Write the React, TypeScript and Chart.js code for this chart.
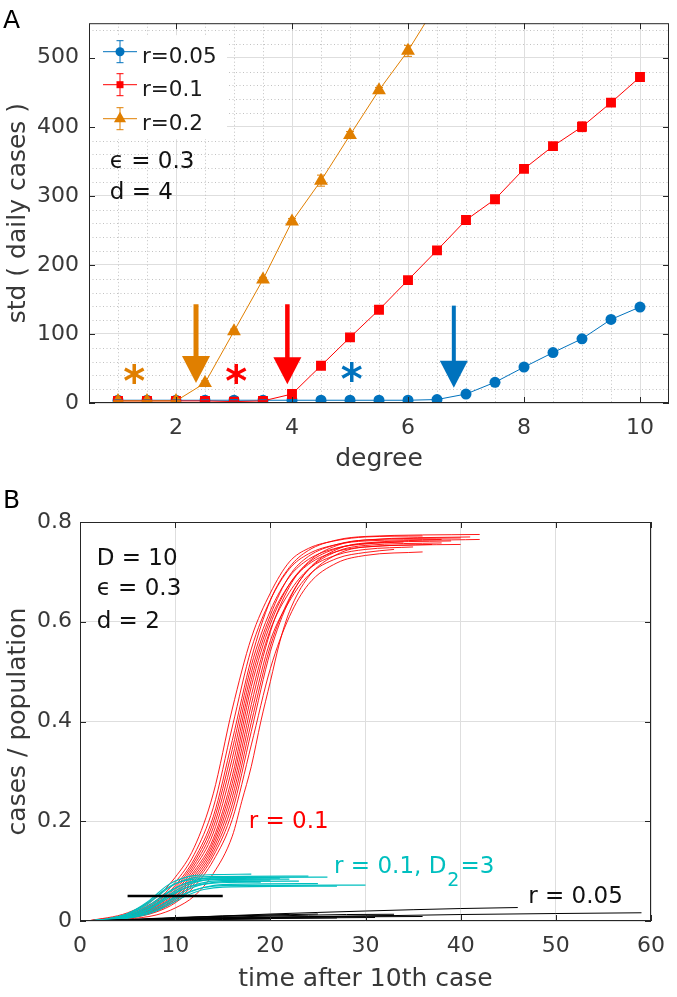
import React, { useEffect, useRef } from "react";
import { Chart, registerables } from "chart.js";

Chart.register(...registerables);

const FONT_FAMILY = '"DejaVu Sans", "Liberation Sans", sans-serif';
const AXIS_COLOR = "#262626";
const TICK_COLOR = "#383838";
const GRID_COLOR = "#dedede";
const MINOR_COLOR = "#c2c2c2";
const BLUE = "#0072BD";
const RED = "#FF0000";
const ORANGE = "#E07F00";
const CYAN = "#00BFBF";

// ---------------- Panel A data ----------------
const degreeValues = [1, 1.5, 2, 2.5, 3, 3.5, 4, 4.5, 5, 5.5, 6, 6.5, 7, 7.5, 8, 8.5, 9, 9.5, 10];
const stdR005 = [4, 4, 4, 4, 4, 4, 4, 4, 4, 4, 4, 5, 13, 30, 52, 73, 93, 121, 139];
const errR005 = [1, 1, 1, 1, 1, 1, 1, 1, 1, 1, 1, 1, 2, 2, 2, 2, 3, 3, 3];
const stdR01 = [3, 3, 3, 3, 2, 3, 13, 54, 95, 135, 178, 221, 265, 295, 339, 372, 400, 435, 472];
const errR01 = [1, 1, 1, 1, 1, 1, 2, 2, 2, 2, 2, 3, 3, 4, 5, 4, 7, 4, 6];
const degreeValuesR02 = [1, 1.5, 2, 2.5, 3, 3.5, 4, 4.5, 5, 5.5, 6, 6.5, 7];
const stdR02 = [3, 3, 3, 29, 104, 179, 263, 322, 388, 453, 510, 578, 645];
const errR02 = [1, 1, 1, 3, 3, 3, 4, 8, 5, 4, 8, 8, 8];
const legendLabels = ["r=0.05", "r=0.1", "r=0.2"];
const degreeTicks = [2, 4, 6, 8, 10];
const stdTicks = [0, 100, 200, 300, 400, 500];
const degreeMinor = [1, 1.5, 2.5, 3, 3.5, 4.5, 5, 5.5, 6.5, 7, 7.5, 8.5, 9, 9.5];
const stdMinor = [20, 40, 60, 80, 120, 140, 160, 180, 220, 240, 260, 280, 320, 340, 360, 380, 420, 440, 460, 480, 520, 540];
const infoA = ["\u03F5 = 0.3", "d = 4"];
const infoAValues = [341, 295];
const arrowDegrees = [2.345, 3.92, 6.79];
const arrowTops = [143, 143, 141];
const arrowTips = [29, 27, 22];
const starDegrees = [1.28, 3.04, 5.03];
const starValues = [42, 42, 45];

// ---------------- Panel B data ----------------
const redRuns: number[][][] = [
  [[0.8, 0], [5, 0.0165], [8, 0.0475], [10, 0.0875], [12, 0.1475], [14, 0.255], [16, 0.425], [18, 0.5675], [20, 0.6575], [22, 0.72], [24, 0.747], [27, 0.763], [30, 0.77], [36, 0.772]],
  [[0.8, 0], [5, 0.0137], [8, 0.0415], [10, 0.0775], [12, 0.1335], [14, 0.227], [16, 0.389], [18, 0.5455], [20, 0.6435], [22, 0.706], [24, 0.736], [27, 0.755], [30, 0.762], [38, 0.765]],
  [[0.8, 0], [5, 0.012], [8, 0.0376], [10, 0.071], [12, 0.124], [14, 0.209], [16, 0.362], [18, 0.526], [20, 0.643], [22, 0.709], [24, 0.743], [27, 0.764], [30, 0.771], [42, 0.775]],
  [[0.8, 0], [5, 0.011], [8, 0.035], [10, 0.067], [12, 0.118], [14, 0.198], [16, 0.344], [18, 0.512], [20, 0.622], [22, 0.69], [24, 0.725], [27, 0.748], [30, 0.756], [34, 0.76]],
  [[0.8, 0], [5, 0.01], [8, 0.0328], [10, 0.063], [12, 0.112], [14, 0.187], [16, 0.326], [18, 0.498], [20, 0.613], [22, 0.692], [24, 0.731], [27, 0.755], [30, 0.764], [40, 0.768]],
  [[0.8, 0], [5, 0.009], [8, 0.03], [10, 0.059], [12, 0.106], [14, 0.176], [16, 0.308], [18, 0.484], [20, 0.604], [22, 0.675], [24, 0.715], [27, 0.741], [30, 0.75], [37, 0.755]],
  [[0.8, 0], [5, 0.008], [8, 0.028], [10, 0.055], [12, 0.1], [14, 0.165], [16, 0.29], [18, 0.47], [20, 0.595], [22, 0.675], [24, 0.718], [27, 0.747], [30, 0.757], [39, 0.762]],
  [[0.8, 0], [5, 0.0076], [8, 0.026], [10, 0.052], [12, 0.095], [14, 0.158], [16, 0.276], [18, 0.452], [20, 0.584], [22, 0.659], [24, 0.705], [27, 0.734], [30, 0.745], [35, 0.75]],
  [[0.8, 0], [5, 0.007], [8, 0.0248], [10, 0.049], [12, 0.09], [14, 0.151], [16, 0.262], [18, 0.434], [20, 0.58], [22, 0.67], [24, 0.72], [27, 0.753], [30, 0.764], [41, 0.77]],
  [[0.8, 0], [5, 0.007], [8, 0.023], [10, 0.046], [12, 0.085], [14, 0.144], [16, 0.248], [18, 0.416], [20, 0.562], [22, 0.641], [24, 0.693], [27, 0.727], [30, 0.739], [33, 0.745]],
  [[0.8, 0], [5, 0.0064], [8, 0.0216], [10, 0.043], [12, 0.08], [14, 0.137], [16, 0.234], [18, 0.398], [20, 0.551], [22, 0.647], [24, 0.704], [27, 0.741], [30, 0.753], [38, 0.758]],
  [[0.8, 0], [5, 0.006], [8, 0.02], [10, 0.04], [12, 0.075], [14, 0.13], [16, 0.22], [18, 0.38], [20, 0.54], [22, 0.644], [24, 0.705], [27, 0.745], [30, 0.758], [42, 0.765]],
  [[0.8, 0], [5, 0.0054], [8, 0.018], [10, 0.0364], [12, 0.069], [14, 0.121], [16, 0.2035], [18, 0.353], [20, 0.506], [22, 0.61], [24, 0.675], [27, 0.718], [30, 0.733], [36, 0.74]],
  [[0.8, 0], [5, 0.004], [8, 0.012], [10, 0.026], [12, 0.05], [14, 0.095], [16, 0.17], [17, 0.24], [18, 0.31], [19, 0.4], [20, 0.48], [21, 0.56], [22, 0.62], [24, 0.69], [27, 0.735], [30, 0.75], [40, 0.755]],
];

const cyanRuns: number[][][] = [
  [[0.8, 0], [3, 0.005], [5, 0.015], [7, 0.037], [8, 0.053], [9, 0.069], [10, 0.08], [11, 0.087], [12, 0.091], [14, 0.093], [18, 0.094]],
  [[0.8, 0], [3, 0.004], [5, 0.013], [7, 0.032], [8, 0.047], [9, 0.062], [10, 0.074], [11, 0.082], [12, 0.087], [14, 0.089], [24, 0.09]],
  [[0.8, 0], [3, 0.0035], [5, 0.011], [7, 0.026], [8, 0.039], [9, 0.053], [10, 0.065], [11, 0.075], [12, 0.081], [14, 0.087], [26, 0.088]],
  [[0.8, 0], [3, 0.003], [5, 0.009], [7, 0.023], [8, 0.035], [9, 0.048], [10, 0.06], [11, 0.07], [12, 0.077], [14, 0.084], [21, 0.086]],
  [[0.8, 0], [3, 0.0037], [5, 0.011], [7, 0.028], [8, 0.041], [9, 0.055], [10, 0.066], [11, 0.074], [12, 0.079], [14, 0.083], [22, 0.084]],
  [[0.8, 0], [3, 0.003], [5, 0.008], [7, 0.02], [8, 0.031], [9, 0.043], [10, 0.055], [11, 0.065], [12, 0.072], [14, 0.08], [20, 0.082]],
  [[0.8, 0], [3, 0.0025], [5, 0.007], [7, 0.017], [8, 0.026], [9, 0.037], [10, 0.049], [11, 0.06], [12, 0.068], [13, 0.074], [15, 0.079], [23, 0.08]],
  [[0.8, 0], [3, 0.003], [5, 0.009], [7, 0.022], [8, 0.033], [9, 0.046], [10, 0.057], [11, 0.066], [12, 0.071], [14, 0.076], [19, 0.078]],
  [[0.8, 0], [3, 0.002], [5, 0.006], [7, 0.015], [8, 0.022], [9, 0.032], [10, 0.043], [11, 0.053], [12, 0.061], [13, 0.067], [15, 0.073], [25, 0.075]],
  [[0.8, 0], [3, 0.0025], [5, 0.007], [7, 0.017], [8, 0.026], [9, 0.036], [10, 0.046], [11, 0.055], [12, 0.062], [13, 0.067], [15, 0.071], [30, 0.072]],
  [[0.8, 0], [3, 0.002], [5, 0.0055], [7, 0.013], [8, 0.02], [9, 0.029], [10, 0.039], [11, 0.049], [12, 0.057], [13, 0.063], [15, 0.068], [27, 0.07]],
  [[0.8, 0], [3, 0.0045], [5, 0.014], [7, 0.035], [8, 0.05], [9, 0.064], [10, 0.075], [11, 0.081], [12, 0.084], [14, 0.086], [17, 0.086]],
];

const blackRuns: number[][][] = [
  [[1, 0], [5, 0.002], [10, 0.006], [20, 0.014], [30, 0.02], [40, 0.025], [46, 0.027]],
  [[1, 0], [5, 0.0015], [10, 0.003], [20, 0.007], [30, 0.01], [40, 0.013], [50, 0.015], [59, 0.0165]],
  [[1, 0], [5, 0.002], [10, 0.005], [20, 0.008], [30, 0.01], [33, 0.011]],
  [[1, 0], [5, 0.0015], [10, 0.004], [20, 0.007], [30, 0.0085], [36, 0.009]],
  [[1, 0], [5, 0.002], [10, 0.005], [20, 0.01], [28, 0.013], [33, 0.0135]],
  [[1, 0], [5, 0.0012], [10, 0.003], [20, 0.005], [27, 0.006]],
  [[1, 0], [5, 0.0025], [10, 0.006], [18, 0.011], [25, 0.014]],
  [[1, 0], [6, 0.002], [12, 0.004], [22, 0.006], [31, 0.007]],
  [[1, 0], [5, 0.001], [10, 0.002], [15, 0.003], [20, 0.004]],
  [[1, 0], [5, 0.003], [10, 0.007], [15, 0.01], [22, 0.013]],
];
const thresholdTimes = [5, 15];
const thresholdValue = 0.05;
const timeTicks = [0, 10, 20, 30, 40, 50, 60];
const fractionTicks = [0, 0.2, 0.4, 0.6, 0.8];
const infoB = ["D = 10", "\u03F5 = 0.3", "d = 2"];
const infoBValues = [0.714, 0.654, 0.587];

// ---------------- helpers ----------------
function font(size: number, weight = "normal") {
  return `${weight} ${size}px ${FONT_FAMILY}`;
}

function drawText(ctx: CanvasRenderingContext2D, s: string, x: number, y: number, size: number, color: string, align: CanvasTextAlign = "left") {
  ctx.font = font(size);
  ctx.fillStyle = color;
  ctx.textAlign = align;
  ctx.textBaseline = "alphabetic";
  ctx.fillText(s, x, y);
}

function drawMarker(ctx: CanvasRenderingContext2D, style: string, x: number, y: number, r: number, color: string) {
  ctx.fillStyle = color;
  ctx.beginPath();
  if (style === "circle") ctx.arc(x, y, r, 0, Math.PI * 2);
  else if (style === "rect") ctx.rect(x - r, y - r, 2 * r, 2 * r);
  else {
    ctx.moveTo(x, y - r);
    ctx.lineTo(x + r * 0.866, y + r * 0.5);
    ctx.lineTo(x - r * 0.866, y + r * 0.5);
    ctx.closePath();
  }
  ctx.fill();
}

function drawErrorBar(ctx: CanvasRenderingContext2D, x: number, yLo: number, yHi: number, cap: number, color: string) {
  ctx.strokeStyle = color;
  ctx.lineWidth = 1;
  ctx.beginPath();
  ctx.moveTo(x, yLo);
  ctx.lineTo(x, yHi);
  ctx.moveTo(x - cap / 2, yLo);
  ctx.lineTo(x + cap / 2, yLo);
  ctx.moveTo(x - cap / 2, yHi);
  ctx.lineTo(x + cap / 2, yHi);
  ctx.stroke();
}

function drawBoxAndTicks(chart: any, xTicks: number[], yTicks: number[], len: number) {
  const { ctx, chartArea: ca, scales } = chart;
  const xs = scales.x;
  const ys = scales.y;
  ctx.save();
  ctx.strokeStyle = AXIS_COLOR;
  ctx.lineWidth = 1;
  ctx.strokeRect(ca.left + 0.5, ca.top + 0.5, ca.right - ca.left - 1, ca.bottom - ca.top - 1);
  ctx.beginPath();
  for (const v of xTicks) {
    const px = Math.round(xs.getPixelForValue(v)) + 0.5;
    ctx.moveTo(px, ca.bottom);
    ctx.lineTo(px, ca.bottom - len);
    ctx.moveTo(px, ca.top);
    ctx.lineTo(px, ca.top + len);
  }
  for (const v of yTicks) {
    const py = Math.round(ys.getPixelForValue(v)) + 0.5;
    ctx.moveTo(ca.left, py);
    ctx.lineTo(ca.left + len, py);
    ctx.moveTo(ca.right, py);
    ctx.lineTo(ca.right - len, py);
  }
  ctx.stroke();
  ctx.restore();
}

function drawArrow(ctx: CanvasRenderingContext2D, x: number, yTop: number, yTip: number, color: string, shaft: number) {
  const headW = 28;
  const headH = 27;
  ctx.strokeStyle = color;
  ctx.fillStyle = color;
  ctx.lineWidth = shaft;
  ctx.beginPath();
  ctx.moveTo(x, yTop);
  ctx.lineTo(x, yTip - headH + 2);
  ctx.stroke();
  ctx.beginPath();
  ctx.moveTo(x - headW / 2, yTip - headH);
  ctx.lineTo(x + headW / 2, yTip - headH);
  ctx.lineTo(x, yTip);
  ctx.closePath();
  ctx.fill();
}

function drawStar(ctx: CanvasRenderingContext2D, x: number, y: number, color: string) {
  ctx.font = font(42, "bold");
  ctx.fillStyle = color;
  ctx.textAlign = "center";
  ctx.textBaseline = "alphabetic";
  const m = ctx.measureText("*");
  const cy = y + (m.actualBoundingBoxAscent - m.actualBoundingBoxDescent) / 2;
  ctx.fillText("*", x, cy);
}

const seriesA = [
  { xs: degreeValues, ys: stdR005, errs: errR005, color: BLUE, style: "circle", radius: 5.5, legendR: 4.5, order: 3 },
  { xs: degreeValues, ys: stdR01, errs: errR01, color: RED, style: "rect", radius: 7, legendR: 3.5, order: 2 },
  { xs: degreeValuesR02, ys: stdR02, errs: errR02, color: ORANGE, style: "triangle", radius: 8, legendR: 7, order: 1 },
];

const panelAPlugin = {
  id: "panelA",
  beforeDatasetsDraw(chart: any) {
    const { ctx, chartArea: ca, scales } = chart;
    ctx.save();
    ctx.strokeStyle = MINOR_COLOR;
    ctx.lineWidth = 1;
    ctx.setLineDash([1, 2.5]);
    for (const d of degreeMinor) {
      const px = Math.round(scales.x.getPixelForValue(d)) + 0.5;
      ctx.beginPath();
      ctx.moveTo(px, ca.top);
      ctx.lineTo(px, ca.bottom);
      ctx.stroke();
    }
    for (const v of stdMinor) {
      const py = Math.round(scales.y.getPixelForValue(v)) + 0.5;
      ctx.beginPath();
      ctx.moveTo(ca.left, py);
      ctx.lineTo(ca.right, py);
      ctx.stroke();
    }
    ctx.setLineDash([]);
    ctx.fillStyle = "#ffffff";
    ctx.fillRect(ca.left + 1, ca.top + 12, 137, 104);
    ctx.restore();
  },
  afterDatasetsDraw(chart: any) {
    const { ctx, chartArea: ca, scales } = chart;
    const xs = scales.x;
    const ys = scales.y;
    ctx.save();
    ctx.beginPath();
    ctx.rect(ca.left, ca.top, ca.right - ca.left, ca.bottom - ca.top);
    ctx.clip();
    for (const s of seriesA) {
      s.xs.forEach((d: number, i: number) => {
        const x = xs.getPixelForValue(d);
        drawErrorBar(ctx, x, ys.getPixelForValue(s.ys[i] - s.errs[i]), ys.getPixelForValue(s.ys[i] + s.errs[i]), 8, s.color);
      });
    }
    ctx.restore();

    drawBoxAndTicks(chart, degreeTicks, stdTicks, 6);

    ctx.save();
    // legend
    const rows = [28.5, 61.5, 95.5];
    seriesA.forEach((s, k) => {
      const yRow = ca.top + rows[k];
      ctx.strokeStyle = s.color;
      ctx.lineWidth = 1;
      ctx.beginPath();
      ctx.moveTo(ca.left + 14, yRow);
      ctx.lineTo(ca.left + 48, yRow);
      ctx.stroke();
      drawErrorBar(ctx, ca.left + 31, yRow - 11, yRow + 11, 7, s.color);
      drawMarker(ctx, s.style, ca.left + 31, yRow, s.legendR, s.color);
      drawText(ctx, legendLabels[k], ca.left + 53, yRow + 11.5, 21.5, "#1a1a1a");
    });
    // parameters
    infoA.forEach((t, k) => {
      drawText(ctx, t, xs.getPixelForValue(0.858), ys.getPixelForValue(infoAValues[k]), 23, "#111111");
    });
    // arrows and stars
    const colors = [ORANGE, RED, BLUE];
    const shafts = [5, 4.5, 4];
    arrowDegrees.forEach((d, k) => {
      drawArrow(ctx, xs.getPixelForValue(d), ys.getPixelForValue(arrowTops[k]), ys.getPixelForValue(arrowTips[k]), colors[k], shafts[k]);
    });
    starDegrees.forEach((d, k) => {
      drawStar(ctx, xs.getPixelForValue(d), ys.getPixelForValue(starValues[k]), colors[k]);
    });
    ctx.restore();
  },
  afterDraw(chart: any) {
    const { ctx } = chart;
    ctx.save();
    drawText(ctx, "A", 3, 28, 25, "#000000");
    ctx.restore();
  },
};

const panelBPlugin = {
  id: "panelB",
  afterDatasetsDraw(chart: any) {
    const { ctx, scales } = chart;
    const xs = scales.x;
    const ys = scales.y;
    drawBoxAndTicks(chart, timeTicks, fractionTicks, 6);
    ctx.save();
    infoB.forEach((t, k) => {
      drawText(ctx, t, xs.getPixelForValue(1.75), ys.getPixelForValue(infoBValues[k]), 23, "#111111");
    });
    drawText(ctx, "r = 0.1", xs.getPixelForValue(17.73), ys.getPixelForValue(0.186), 23, RED);
    // cyan label with subscript
    const cx = xs.getPixelForValue(26.7);
    const cy = ys.getPixelForValue(0.096);
    drawText(ctx, "r = 0.1, D", cx, cy, 23, CYAN);
    ctx.font = font(23);
    const w1 = ctx.measureText("r = 0.1, D").width;
    drawText(ctx, "2", cx + w1 + 1, cy + 13, 19, CYAN);
    ctx.font = font(19);
    const w2 = ctx.measureText("2").width;
    drawText(ctx, "=3", cx + w1 + 2 + w2, cy, 23, CYAN);
    drawText(ctx, "r = 0.05", xs.getPixelForValue(47.1), ys.getPixelForValue(0.036), 23, "#111111");
    ctx.restore();
  },
  afterDraw(chart: any) {
    const { ctx } = chart;
    ctx.save();
    drawText(ctx, "B", 3, 28, 25, "#000000");
    ctx.restore();
  },
};

function runDataset(run: number[][], color: string, width: number, order: number) {
  return {
    data: run.map((p) => ({ x: p[0], y: p[1] })),
    borderColor: color,
    backgroundColor: color,
    borderWidth: width,
    pointRadius: 0,
    cubicInterpolationMode: "monotone",
    order,
  };
}

function buildConfigA(): any {
  return {
    type: "line",
    data: {
      datasets: seriesA.map((s, k) => ({
        label: legendLabels[k],
        data: s.xs.map((x: number, i: number) => ({ x, y: s.ys[i] })),
        borderColor: s.color,
        backgroundColor: s.color,
        pointBackgroundColor: s.color,
        pointBorderColor: s.color,
        pointBorderWidth: 0,
        borderWidth: 1,
        pointStyle: s.style,
        pointRadius: s.radius,
        order: s.order,
      })),
    },
    options: {
      animation: false,
      responsive: false,
      maintainAspectRatio: false,
      events: [],
      layout: { padding: { left: 0, right: 1, top: 1, bottom: 0 } },
      plugins: { legend: { display: false }, tooltip: { enabled: false } },
      scales: {
        x: {
          type: "linear",
          min: 0.5,
          max: 10.5,
          afterBuildTicks: (s: any) => {
            s.ticks = degreeTicks.map((v) => ({ value: v }));
          },
          afterFit: (s: any) => {
            s.height = 77;
          },
          grid: { color: GRID_COLOR, lineWidth: 1, drawTicks: false },
          border: { display: false },
          ticks: { font: { family: FONT_FAMILY, size: 22 }, color: TICK_COLOR, padding: 12, maxRotation: 0, autoSkip: false, callback: (v: any) => String(v) },
          title: { display: true, text: "degree", font: { family: FONT_FAMILY, size: 25 }, color: TICK_COLOR, padding: { top: 0, bottom: 5.6 } },
        },
        y: {
          type: "linear",
          min: 0,
          max: 550,
          afterBuildTicks: (s: any) => {
            s.ticks = stdTicks.map((v) => ({ value: v }));
          },
          afterFit: (s: any) => {
            s.width = 89;
          },
          grid: { color: GRID_COLOR, lineWidth: 1, drawTicks: false },
          border: { display: false },
          ticks: { font: { family: FONT_FAMILY, size: 22 }, color: TICK_COLOR, padding: 10, autoSkip: false, callback: (v: any) => String(v) },
          title: { display: true, text: "std ( daily cases )", font: { family: FONT_FAMILY, size: 25 }, color: TICK_COLOR, padding: { top: 3.4, bottom: 0 } },
        },
      },
    },
    plugins: [panelAPlugin],
  };
}

function buildConfigB(): any {
  const datasets: any[] = [];
  redRuns.forEach((r) => datasets.push(runDataset(r, RED, 0.9, 3)));
  cyanRuns.forEach((r) => datasets.push(runDataset(r, CYAN, 1.1, 2)));
  blackRuns.forEach((r) => datasets.push(runDataset(r, "#000000", 1, 1)));
  datasets.push({
    data: thresholdTimes.map((t) => ({ x: t, y: thresholdValue })),
    borderColor: "#000000",
    borderWidth: 2.5,
    pointRadius: 0,
    order: 0,
  });
  return {
    type: "line",
    data: { datasets },
    options: {
      animation: false,
      responsive: false,
      maintainAspectRatio: false,
      events: [],
      layout: { padding: { left: 0, right: 15, top: 42, bottom: 0 } },
      plugins: { legend: { display: false }, tooltip: { enabled: false } },
      scales: {
        x: {
          type: "linear",
          min: 0,
          max: 60,
          afterBuildTicks: (s: any) => {
            s.ticks = timeTicks.map((v) => ({ value: v }));
          },
          afterFit: (s: any) => {
            s.height = 76;
          },
          grid: { color: GRID_COLOR, lineWidth: 1, drawTicks: false },
          border: { display: false },
          ticks: { font: { family: FONT_FAMILY, size: 22 }, color: TICK_COLOR, padding: 12, maxRotation: 0, autoSkip: false, callback: (v: any) => String(v) },
          title: { display: true, text: "time after 10th case", font: { family: FONT_FAMILY, size: 25 }, color: TICK_COLOR, padding: { top: 0, bottom: 2.6 } },
        },
        y: {
          type: "linear",
          min: 0,
          max: 0.8,
          afterBuildTicks: (s: any) => {
            s.ticks = fractionTicks.map((v) => ({ value: v }));
          },
          afterFit: (s: any) => {
            s.width = 80;
          },
          grid: { color: GRID_COLOR, lineWidth: 1, drawTicks: false },
          border: { display: false },
          ticks: { font: { family: FONT_FAMILY, size: 22 }, color: TICK_COLOR, padding: 8, autoSkip: false, callback: (v: any) => String(v) },
          title: { display: true, text: "cases / population", font: { family: FONT_FAMILY, size: 25 }, color: TICK_COLOR, padding: { top: 3.4, bottom: 0 } },
        },
      },
    },
    plugins: [panelBPlugin],
  };
}

export default function App() {
  const refA = useRef<HTMLCanvasElement>(null);
  const refB = useRef<HTMLCanvasElement>(null);
  useEffect(() => {
    const a = new Chart(refA.current as HTMLCanvasElement, buildConfigA());
    const b = new Chart(refB.current as HTMLCanvasElement, buildConfigB());
    return () => {
      a.destroy();
      b.destroy();
    };
  }, []);
  return (
    <div style={{ position: "absolute", left: 0, top: 0, width: 677, height: 997, background: "#ffffff" }}>
      <canvas ref={refA} width={677} height={480} style={{ position: "absolute", left: 0, top: 0, width: 677, height: 480 }} />
      <canvas ref={refB} width={677} height={517} style={{ position: "absolute", left: 0, top: 480, width: 677, height: 517 }} />
    </div>
  );
}
